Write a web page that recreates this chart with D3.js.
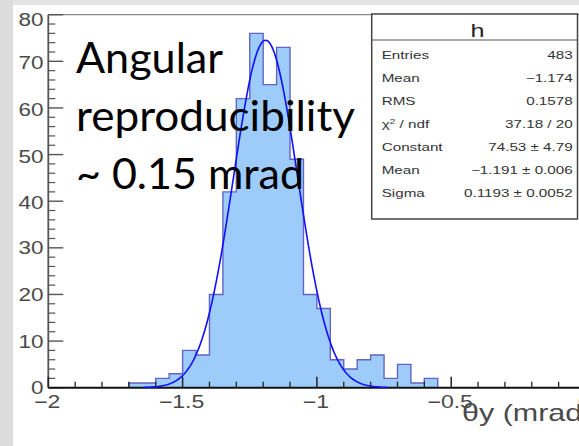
<!DOCTYPE html>
<html><head><meta charset="utf-8">
<script src="https://cdn.jsdelivr.net/npm/d3@7"></script>
<style>html,body{margin:0;padding:0;background:#fff;} svg{display:block}</style>
</head><body>
<svg id="c" width="579" height="446"></svg>
<script>
// ---------------- data ----------------
const binEdges = [-1.70,-1.65,-1.60,-1.55,-1.50,-1.45,-1.40,-1.35,-1.30,-1.25,-1.20,-1.15,-1.10,-1.05,-1.00,-0.95,-0.90,-0.85,-0.80,-0.75,-0.70,-0.65,-0.60,-0.55];
const counts   = [1,1,2,3,8,7,20,42,62,76,65,73,49,20,17,6,4,6,7,2,5,1,2];
const xMajorTicks = [-2,-1.5,-1,-0.5,0];
const xTickLabels = ["\u22122","\u22121.5","\u22121","\u22120.5","0"];
const yMajorTicks = [0,10,20,30,40,50,60,70,80];
const yTickLabels = ["0","10","20","30","40","50","60","70","80"];
const fitConstant = 74.53, fitMean = -1.191, fitSigma = 0.1193;
const fitRange = [-1.647, -0.735];
const statsTitle = "h";
const statsLabels = ["Entries","Mean","RMS","CHI","Constant","Mean","Sigma"];
const statsValues = ["483","\u22121.174","0.1578","37.18 / 20","74.53 \u00b1 4.79","\u22121.191 \u00b1 0.006","0.1193 \u00b1 0.0052"];
const overlayLines = ["Angular","reproducibility","~ 0.15 mrad"];
const xTitle = "\u03b8y (mrad)";

// ---------------- drawing ----------------
const svg = d3.select("#c");
const W = 579, H = 446;
const x = d3.scaleLinear().domain([-2, 0]).range([48.3, 585.5]);
const y = d3.scaleLinear().domain([0, 80]).range([387.7, 14.7]);

// page background
svg.append("rect").attr("x",0).attr("y",0).attr("width",W).attr("height",H).attr("fill","#fff");
svg.append("rect").attr("x",0).attr("y",0).attr("width",W).attr("height",5).attr("fill","#e4e4e4");
svg.append("rect").attr("x",0).attr("y",0).attr("width",13).attr("height",H).attr("fill","#dcdcdc");

// histogram fill
const bins = counts.map((c,i)=>({x0:binEdges[i], x1:binEdges[i+1], c}));
svg.append("g").selectAll("rect").data(bins).join("rect")
  .attr("x", d=>x(d.x0)).attr("width", d=>x(d.x1)-x(d.x0))
  .attr("y", d=>y(d.c)).attr("height", d=>y(0)-y(d.c))
  .attr("fill","#9dcbfa").attr("shape-rendering","crispEdges");

// histogram outline (step)
const stepPts = [[x(bins[0].x0), y(0)]];
bins.forEach(b=>{ stepPts.push([x(b.x0), y(b.c)]); stepPts.push([x(b.x1), y(b.c)]); });
stepPts.push([x(bins[bins.length-1].x1), y(0)]);
svg.append("path").attr("d", d3.line()(stepPts))
  .attr("fill","none").attr("stroke","#6464c4").attr("stroke-width",1.4);

// frame top line
svg.append("line").attr("x1",x(-2)).attr("x2",W).attr("y1",y(80)).attr("y2",y(80))
  .attr("stroke","#8a8a8a").attr("stroke-width",1.2);

// y axis
svg.append("line").attr("x1",x(-2)).attr("x2",x(-2)).attr("y1",y(0)).attr("y2",y(80))
  .attr("stroke","#555").attr("stroke-width",1.8);
const yMinor = d3.range(0, 81, 2).filter(v=>!yMajorTicks.includes(v));
svg.append("g").selectAll("line").data(yMinor).join("line")
  .attr("x1",x(-2)).attr("x2",x(-2)+7).attr("y1",d=>y(d)).attr("y2",d=>y(d))
  .attr("stroke","#555").attr("stroke-width",1.2);
svg.append("g").selectAll("line").data(yMajorTicks).join("line")
  .attr("x1",x(-2)).attr("x2",x(-2)+15).attr("y1",d=>y(d)).attr("y2",d=>y(d))
  .attr("stroke","#555").attr("stroke-width",1.4);

function sText(parent, tx, ty, str, size, sx, anchor, fill, family){
  const g = parent.append("g").attr("transform",`translate(${tx},${ty}) scale(${sx},1)`);
  return g.append("text").attr("x",0).attr("y",0).attr("text-anchor",anchor)
    .attr("font-family", family || "'Liberation Sans', Arial, sans-serif")
    .attr("font-size",size).attr("fill",fill).text(str);
}
const yl = svg.append("g");
yMajorTicks.forEach((v,i)=>{
  sText(yl, 43.5, y(v)+6.5+(i>=4?1.5:0)+(i===8?3:0), yTickLabels[i], 18, 1.25, "end", "#4a4a4a");
});

// x axis
svg.append("line").attr("x1",x(-2)).attr("x2",W).attr("y1",y(0)).attr("y2",y(0))
  .attr("stroke","#111").attr("stroke-width",2);
const xMinor = d3.range(-20, 1, 1).map(v=>v/10).filter(v=>!xMajorTicks.some(m=>Math.abs(m-v)<1e-9));
svg.append("g").selectAll("line").data(xMinor).join("line")
  .attr("x1",d=>x(d)).attr("x2",d=>x(d)).attr("y1",y(0)).attr("y2",y(0)-6)
  .attr("stroke","#222").attr("stroke-width",1.3);
svg.append("g").selectAll("line").data(xMajorTicks).join("line")
  .attr("x1",d=>x(d)).attr("x2",d=>x(d)).attr("y1",y(0)).attr("y2",y(0)-11)
  .attr("stroke","#222").attr("stroke-width",1.5);
const xl = svg.append("g");
xMajorTicks.forEach((v,i)=>{
  sText(xl, x(v)-1, 407.5, xTickLabels[i], 18, 1.28, "middle", "#4a4a4a");
});
sText(svg, 462, 421, xTitle, 24, 1.27, "start", "#4a4a4a");

// fit curve (gaussian with the fit parameters shown in the stats box)
const fitX = d3.range(fitRange[0], fitRange[1]+1e-9, 0.004);
const gauss = v => fitConstant*Math.exp(-0.5*Math.pow((v-fitMean)/fitSigma,2));
svg.append("path").attr("d", d3.line().x(d=>x(d)).y(d=>y(gauss(d))).curve(d3.curveLinear)(fitX))
  .attr("fill","none").attr("stroke","#1010ff").attr("stroke-width",1.6);

// overlay text
const ovY = [73.3, 130.5, 188.5];
const ovW = [147, 279, 228];
overlayLines.forEach((s,i)=>{
  svg.append("text").attr("x",76).attr("y",ovY[i])
    .attr("font-family","Lato, 'Open Sans', sans-serif").attr("font-size",43)
    .attr("textLength",ovW[i]).attr("lengthAdjust","spacingAndGlyphs")
    .attr("fill","#000").text(s);
});

// stats box
const bx0 = 371.7, bx1 = 577.5, by0 = 14, by1 = 219;
svg.append("rect").attr("x",bx0).attr("y",by0).attr("width",bx1-bx0).attr("height",by1-by0)
  .attr("fill","#fff").attr("stroke","#444").attr("stroke-width",1.5);
svg.append("line").attr("x1",bx0).attr("x2",bx1).attr("y1",40).attr("y2",40)
  .attr("stroke","#555").attr("stroke-width",1.1);
sText(svg, 477.5, 37.3, statsTitle, 18, 1.4, "middle", "#222");
const rowY = [58.7, 81.8, 104.9, 128, 151.1, 174.2, 197.3];
statsLabels.forEach((s,i)=>{
  if (s === "CHI") {
    const t = sText(svg, 381.7, rowY[i], "", 10.5, 1.45, "start", "#333");
    t.append("tspan").text("\u03c7");
    t.append("tspan").attr("font-size",7).attr("dy",-4).text("2");
    t.append("tspan").attr("dy",4).text(" / ndf");
  } else {
    sText(svg, 381.7, rowY[i], s, 10.5, 1.45, "start", "#333");
  }
  sText(svg, 572.7, rowY[i], statsValues[i], 10.5, 1.45, "end", "#333");
});
</script>
</body></html>
